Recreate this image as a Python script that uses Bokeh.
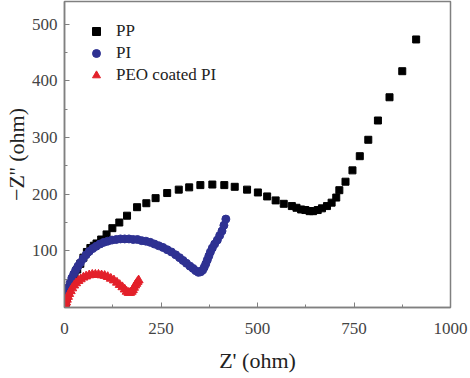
from bokeh.plotting import figure
from bokeh.models import Range1d, FixedTicker, Legend, LegendItem
from bokeh.embed import file_html
from bokeh.resources import INLINE

# PP (black squares)
pp_x = [3, 6, 10, 15, 20, 26, 33, 41, 49, 58, 67, 76, 83, 95, 109, 124, 142, 162, 188, 212,
        236, 266, 296, 323, 352, 383, 414, 441, 473, 501, 525, 547, 568, 589, 601, 613, 624,
        635, 644, 656, 667, 680, 692, 704, 712, 728, 746, 765, 787, 812, 842, 875, 911]
pp_y = [8, 17, 27, 37, 47, 57, 67, 77, 88, 98, 105, 109, 113, 120, 129, 140, 150, 162, 177, 184,
        193, 202, 208, 212, 216, 217, 216, 213, 208, 203, 196, 189, 183, 179, 176, 173, 172,
        170, 170, 172, 175, 179, 185, 194, 207, 222, 242, 267, 296, 330, 371, 417, 473]

# PI (blue circles)
pi_x = [3, 5, 8, 11, 15, 19, 24, 29, 35, 41, 48, 56, 64, 73, 82, 92, 102, 112, 123, 134,
        145, 156, 167, 178, 189, 200, 211, 222, 233, 244, 255, 266, 277, 288, 298, 307, 316,
        325, 333, 340, 347, 353, 358, 362, 366, 370, 374, 378, 383, 389, 396, 402, 408, 413, 418]
pi_y = [8, 18, 27, 36, 44, 52, 59, 66, 73, 79, 86, 93, 99, 104, 108, 112, 115, 117, 119, 120,
        121, 121, 121, 120, 120, 118, 117, 115, 112, 109, 106, 102, 98, 93, 88, 83, 78,
        73, 69, 65, 62, 63, 66, 71, 77, 84, 91, 98, 105, 112, 119, 127, 135, 145, 156]

# PEO coated PI (red triangles)
peo_x = [2, 4, 6, 9, 12, 16, 20, 25, 30, 36, 42, 49, 56, 64, 72, 80, 88, 96, 104, 112,
         120, 128, 136, 143, 150, 156, 161, 166, 170, 174, 177, 180, 183, 186, 189, 192]
peo_y = [4, 9, 14, 19, 24, 29, 34, 39, 43, 47, 50, 53, 55, 57, 58, 58, 58, 57, 56, 54,
         51, 48, 44, 40, 36, 32, 28, 26, 26, 28, 31, 35, 39, 42, 45, 48]

x_ticks = [0, 250, 500, 750, 1000]
x_minor = [125, 375, 625, 875]
y_ticks = [100, 200, 300, 400, 500]
y_minor = [50, 150, 250, 350, 450]

FONT = "'Liberation Serif', 'Times New Roman', serif"
GREY = "#808080"

p = figure(frame_width=386, frame_height=306, output_backend="svg", toolbar_location=None,
           x_range=Range1d(0, 1000), y_range=Range1d(0, 540),
           min_border_left=56, min_border_right=20, min_border_top=1, min_border_bottom=63)
p.xgrid.visible = False
p.ygrid.visible = False
p.outline_line_color = GREY
p.outline_line_width = 1.5
p.background_fill_color = "white"
p.border_fill_color = "white"

p.xaxis.ticker = FixedTicker(ticks=x_ticks, minor_ticks=x_minor)
p.yaxis.ticker = FixedTicker(ticks=y_ticks, minor_ticks=y_minor)
for ax in (p.xaxis, p.yaxis):
    ax.axis_line_color = GREY
    ax.axis_line_width = 1.5
    ax.major_tick_line_color = GREY
    ax.minor_tick_line_color = GREY
    ax.major_tick_in = 5
    ax.major_tick_out = 0
    ax.minor_tick_in = 3
    ax.minor_tick_out = 0
    ax.major_label_text_font = FONT
    ax.major_label_text_font_size = "17px"
    ax.major_label_text_color = "#444444"
    ax.axis_label_text_font = FONT
    ax.axis_label_text_font_style = "normal"
    ax.axis_label_text_color = "#222222"
p.xaxis.axis_label = "Z' (ohm)"
p.yaxis.axis_label = "\u2212Z'' (ohm)"
p.xaxis.axis_label_text_font_size = "22px"
p.yaxis.axis_label_text_font_size = "22px"
p.xaxis.major_label_standoff = 15
p.xaxis.axis_label_standoff = 11
p.yaxis.major_label_standoff = 7
p.yaxis.axis_label_standoff = 0

r1 = p.scatter(pp_x, pp_y, marker="square", size=7, color="black")
r2 = p.scatter(pi_x, pi_y, marker="circle", size=8, color="#2E3192")
r3 = p.scatter(peo_x, peo_y, marker="triangle", size=9, color="#E3202A")

legend = Legend(items=[LegendItem(label="PP", renderers=[r1]),
                       LegendItem(label="PI", renderers=[r2]),
                       LegendItem(label="PEO coated PI", renderers=[r3])],
                location=(22, 221), margin=0, padding=0, spacing=0,
                label_height=22, glyph_height=22, glyph_width=20, label_standoff=10,
                label_text_font=FONT, label_text_font_size="17px", label_text_color="#222222",
                border_line_alpha=0, background_fill_alpha=0)
p.add_layout(legend)

open("out.html", "w").write(file_html(p, INLINE))
